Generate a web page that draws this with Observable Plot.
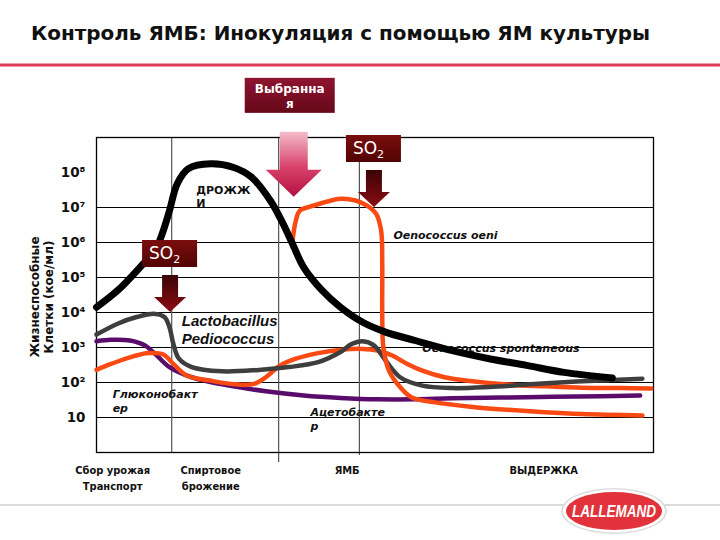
<!DOCTYPE html>
<html><head><meta charset="utf-8">
<script src="https://cdn.jsdelivr.net/npm/d3@7"></script>
<script src="https://cdn.jsdelivr.net/npm/@observablehq/plot@0.6"></script>
<style>body{margin:0;background:#fff}</style>
</head><body><div id="chart"></div>
<script>
// ---------- DATA ----------
const title = "Контроль ЯМБ: Инокуляция с помощью ЯМ культуры";
const yTitle = ["Жизнеспособные", "Клетки (кое/мл)"];
const yTicks = [1e1, 1e2, 1e3, 1e4, 1e5, 1e6, 1e7, 1e8];
const yTickLabels = ["10", "10²", "10³", "10⁴", "10⁵", "10⁶", "10⁷", "10⁸"];
const gridY = [1e1, 1e2, 1e3, 1e4, 1e5, 1e6, 1e7];
// time axis (0–100), stage boundaries
const stageBounds = [13.5, 32.7, 47.2];
const stageLabels = ["Сбор урожая\nТранспорт", "Спиртовое\nброжение", "ЯМБ", "ВЫДЕРЖКА"];
const stageLabelX = [2.9, 20.5, 45, 80.3];

// log10(cells/ml) per series
const yeastX = [0,3.8,7.8,10.5,11.8,13.1,14.5,16.5,20.5,24.5,27.8,31.2,33.2,35.2,37.2,40.5,43.8,47.8,51.9,57.2,63.9,70.5,77.2,83.9,92.6];
const yeastLog = [4.15,4.63,5.29,5.77,6.25,6.91,7.68,8.11,8.25,8.15,7.87,7.2,6.63,5.96,5.29,4.63,4.15,3.72,3.44,3.2,2.91,2.68,2.49,2.29,2.13];

const lactoX = [0,3.8,7.2,10.5,12.2,13.1,13.8,14.8,17.1,22.5,29.1,34.5,39.8,43.8,45.8,47.8,49.8,51.9,54.5,58.5,63.9,70.5,77.2,83.9,90.6,98];
const lactoLog = [3.37,3.68,3.87,3.96,3.87,3.58,3.1,2.68,2.44,2.32,2.36,2.44,2.58,2.87,3.1,3.18,3.06,2.63,2.15,1.91,1.84,1.87,1.94,2.01,2.06,2.11];

const acetoX = [0,2.6,6,8.7,10.5,13.1,17.1,23.8,30.4,37.2,43.8,50.5,57.2,63.9,77.2,90.6,97.6];
const acetoLog = [3.18,3.22,3.2,3.06,2.82,2.44,2.15,1.91,1.75,1.63,1.56,1.52,1.52,1.55,1.58,1.61,1.63];

const spontX = [0,2.6,6,9.4,12,13.8,16.2,20.9,25.6,28.3,30.4,33,35.8,39.8,43.8,47.8,50.5,53.1,55.8,58.5,62.5,67.1,73.8,80.5,87.2,93.9,99.6];
const spontLog = [2.36,2.53,2.72,2.84,2.8,2.53,2.2,2.04,1.94,1.96,2.15,2.49,2.68,2.84,2.93,2.96,2.91,2.77,2.53,2.34,2.15,2.04,1.94,1.89,1.85,1.84,1.83];

const oeniX = [35.2,35.8,36.5,38.5,43.8,46.5,48.5,50.2,51.1,51.3,51.3,51.5,52.5,54.5,56.5,60.5,67.1,73.8,80.5,87.2,98];
const oeniLog = [6.06,6.63,6.91,7.03,7.25,7.2,7.06,6.82,6.34,5.39,3.96,3.01,2.34,1.87,1.58,1.44,1.31,1.22,1.15,1.1,1.06];

// curve labels (x, log10 cells)
const labelText = ["ДРОЖЖ\nИ", "Lactobacillus\nPediococcus", "Oenococcus oeni", "Oenococcus spontaneous", "Глюконобакт\nер", "Ацетобакте\nр"];
const labelX = [17.9, 15.3, 53.3, 58.5, 2.9, 38.4];
const labelLog = [7.33, 3.53, 6.23, 2.97, 1.49, 0.97];

// SO2 additions and inoculation (arrow tips: x, log10 cells)
const so2X = [13.3, 49.9];
const so2Log = [4.0, 7.0];
const inocX = [35.5];
const inocLog = [7.29];
const inocLines = ["Выбранна", "я", "ЯМ"];

// ---------- BUILD ----------
const toRows = (xs, ls) => xs.map((x, i) => ({x, y: Math.pow(10, ls[i])}));
const yeast = toRows(yeastX, yeastLog);
const lacto = toRows(lactoX, lactoLog);
const aceto = toRows(acetoX, acetoLog);
const spont = toRows(spontX, spontLog);
const oeni = toRows(oeniX, oeniLog);
const labels = labelText.map((t, i) => ({t, x: labelX[i], y: Math.pow(10, labelLog[i])}));
const stages = stageLabels.map((t, i) => ({t, x: stageLabelX[i]}));
const boundExt = [1, 0.52, 0.82];

const ORANGE = "#fa4a14", PURPLE = "#5a0c6c", GRAY = "#3e3e3e";
const italicFont = "DejaVu Sans";
const curve = "catmull-rom";

const plot = Plot.plot({
  width: 720, height: 540,
  marginLeft: 96, marginRight: 67, marginTop: 137, marginBottom: 88,
  style: {background: "white", overflow: "visible"},
  x: {domain: [0, 100], axis: null},
  y: {type: "log", domain: [1, 1e9], axis: null},
  marks: [
    Plot.ruleY(gridY, {stroke: "#000", strokeWidth: 1.2}),
    Plot.ruleX(stageBounds, {y1: (d, i) => boundExt[i], y2: 1e9, stroke: "#555", strokeWidth: 1.2}),
    Plot.frame({stroke: "#000", strokeWidth: 1.3}),
    Plot.axisY({ticks: yTicks, tickFormat: d => yTickLabels[yTicks.indexOf(d)], tickSize: 0, tickPadding: 11,
      fontSize: 13.5, fontWeight: "bold", fontFamily: "DejaVu Sans", fill: "#111", label: null}),
    Plot.text(stages, {x: "x", text: "t", frameAnchor: "bottom", lineAnchor: "top", dy: 10, lineHeight: 1.45,
      fontSize: 11, fontWeight: "bold", fontFamily: "Liberation Sans Narrow, DejaVu Sans Condensed, sans-serif", fill: "#111"}),
    Plot.text([labels[3]], {x: "x", y: "y", text: "t", textAnchor: "start", fontSize: 11, fontWeight: "bold", fontStyle: "italic", fontFamily: italicFont, fill: "#111"}),
    Plot.line(aceto, {x: "x", y: "y", stroke: PURPLE, strokeWidth: 4.5, curve}),
    Plot.line(spont, {x: "x", y: "y", stroke: ORANGE, strokeWidth: 4.5, curve}),
    Plot.line(lacto, {x: "x", y: "y", stroke: GRAY, strokeWidth: 4.5, curve}),
    Plot.line(oeni, {x: "x", y: "y", stroke: ORANGE, strokeWidth: 4.5, curve}),
    Plot.line(yeast, {x: "x", y: "y", stroke: "#000", strokeWidth: 7, curve}),
    Plot.text([labels[0]], {x: "x", y: "y", text: "t", textAnchor: "start", lineHeight: 1.2, fontSize: 11, fontWeight: "bold", fontFamily: "DejaVu Sans", fill: "#111"}),
    Plot.text([labels[1]], {x: "x", y: "y", text: "t", textAnchor: "start", lineHeight: 1.25, fontSize: 15, fontWeight: "bold", fontStyle: "italic", fontFamily: "Liberation Sans, Arial, sans-serif", fill: "#111"}),
    Plot.text([labels[2], labels[4], labels[5]], {x: "x", y: "y", text: "t", textAnchor: "start", lineHeight: 1.3, fontSize: 11, fontWeight: "bold", fontStyle: "italic", fontFamily: italicFont, fill: "#111"})
  ]
});
document.getElementById("chart").appendChild(plot);

// ---------- ANNOTATIONS (via Plot scales) ----------
const sx = plot.scale("x"), sy = plot.scale("y");
const svg = d3.select(plot);
const defs = svg.insert("defs", ":first-child");
function grad(id, stops) {
  const g = defs.append("linearGradient").attr("id", id).attr("x1", 0).attr("y1", 0).attr("x2", 0).attr("y2", 1);
  stops.forEach(([o, c]) => g.append("stop").attr("offset", o).attr("stop-color", c));
}
grad("gSo2", [[0, "#7a0e0e"], [1, "#520303"]]);
grad("gDark", [[0, "#3a0306"], [1, "#8c0c14"]]);
grad("gInocBox", [[0, "#8e1430"], [1, "#660818"]]);
grad("gPink", [[0, "#f4bccb"], [0.55, "#d8406a"], [1, "#b3113f"]]);

const ann = svg.append("g").attr("text-anchor", "start");
so2X.forEach((xv, i) => {
  const tx = sx.apply(xv), ty = sy.apply(Math.pow(10, so2Log[i]));
  ann.append("path")
    .attr("d", `M${tx-8},${ty-37}L${tx+8},${ty-37}L${tx+8},${ty-15}L${tx+16},${ty-15}L${tx},${ty}L${tx-16},${ty-15}L${tx-8},${ty-15}Z`)
    .attr("fill", "url(#gDark)");
  ann.append("rect").attr("x", tx-28).attr("y", ty-72).attr("width", 55).attr("height", 27).attr("fill", "url(#gSo2)");
  const t = ann.append("text").attr("x", tx-21).attr("y", ty-53).attr("fill", "#fff").attr("text-anchor", "start")
    .attr("font-family", "DejaVu Sans, sans-serif").attr("font-size", 17);
  t.append("tspan").text("SO");
  t.append("tspan").attr("font-size", 11).attr("dy", 4).text("2");
});
inocX.forEach((xv, i) => {
  const tx = sx.apply(xv), ty = sy.apply(Math.pow(10, inocLog[i]));
  ann.append("path")
    .attr("d", `M${tx-14},${ty-65}L${tx+14},${ty-65}L${tx+14},${ty-27}L${tx+28},${ty-27}L${tx},${ty}L${tx-28},${ty-27}L${tx-14},${ty-27}Z`)
    .attr("fill", "url(#gPink)");
  const bx = tx-49, by = ty-119, bw = 90, bh = 35;
  defs.append("clipPath").attr("id", "clipInoc").append("rect").attr("x", bx).attr("y", by).attr("width", bw).attr("height", bh);
  ann.append("rect").attr("x", bx).attr("y", by).attr("width", bw).attr("height", bh).attr("fill", "url(#gInocBox)");
  const g = ann.append("g").attr("clip-path", "url(#clipInoc)");
  inocLines.forEach((s, k) => {
    g.append("text").attr("x", bx + bw/2).attr("y", by + 15 + 15*k).attr("text-anchor", "middle")
      .attr("fill", "#fff").attr("font-family", "DejaVu Sans, sans-serif").attr("font-weight", "bold").attr("font-size", 12).text(s);
  });
});

// y title
const yt = svg.append("g").attr("transform", "translate(0,297) rotate(-90)");
yTitle.forEach((s, k) => {
  yt.append("text").attr("x", 0).attr("y", 39 + 13.5*k).attr("text-anchor", "middle")
    .attr("font-family", "DejaVu Sans, sans-serif").attr("font-weight", "bold").attr("font-size", 12).attr("fill", "#111").text(s);
});

// header
svg.append("text").attr("x", 31).attr("y", 40).attr("text-anchor", "start").attr("textLength", 619).attr("lengthAdjust", "spacingAndGlyphs")
  .attr("font-family", "DejaVu Sans Condensed, DejaVu Sans, sans-serif").attr("font-weight", "bold").attr("font-size", 19).attr("fill", "#111").text(title);
svg.append("rect").attr("x", 0).attr("y", 63.5).attr("width", 720).attr("height", 3).attr("fill", "#dc3c55");

// footer line + logo
svg.append("line").attr("x1", 0).attr("x2", 720).attr("y1", 505).attr("y2", 505).attr("stroke", "#cfcfcf").attr("stroke-width", 1.5);
const logo = svg.append("g").attr("transform", "translate(614,511)");
logo.append("ellipse").attr("rx", 53).attr("ry", 23).attr("fill", "#dedede");
logo.append("ellipse").attr("rx", 51).attr("ry", 21.5).attr("fill", "#fff");
logo.append("ellipse").attr("rx", 48).attr("ry", 19).attr("fill", "#e2333d");
logo.append("text").attr("x", 0).attr("y", 5.5).attr("text-anchor", "middle").attr("textLength", 84).attr("lengthAdjust", "spacingAndGlyphs")
  .attr("font-family", "Liberation Sans Narrow, Liberation Sans, sans-serif").attr("font-weight", "bold").attr("font-style", "italic")
  .attr("font-size", 16).attr("fill", "#fff").text("LALLEMAND");
</script></body></html>
